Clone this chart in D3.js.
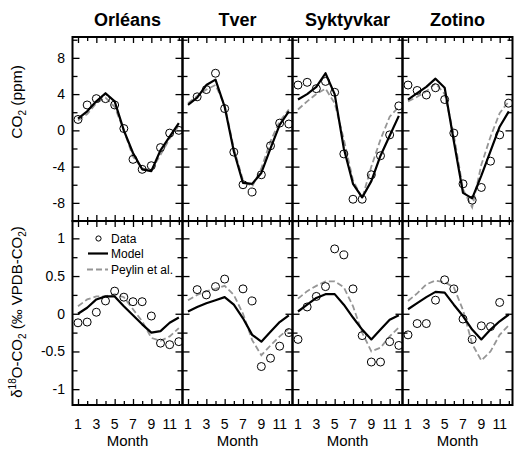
<!DOCTYPE html>
<html>
<head>
<meta charset="utf-8">
<script src="https://cdn.jsdelivr.net/npm/d3@7"></script>
<style>
  body { margin: 0; background: #fff; }
  text { font-family: "Liberation Sans", Arial, Helvetica, sans-serif; fill: #000; }
</style>
</head>
<body>
<svg id="chart" width="514" height="450"></svg>
<script>
// Stations (one column each) and months
const sites = ["Orléans", "Tver", "Syktyvkar", "Zotino"];
const months = [1, 2, 3, 4, 5, 6, 7, 8, 9, 10, 11, 12];
const monthLabels = [1, 3, 5, 7, 9, 11];

// CO2 seasonal cycle (ppm), one row per station
const co2Data = [
  [1.2, 2.8, 3.5, 3.5, 2.8, 0.2, -3.2, -4.3, -3.9, -1.9, -0.3, 0.0],
  [null, 3.7, 4.5, 6.3, 2.4, -2.4, -6.0, -6.8, -4.9, -1.7, 0.8, 0.7],
  [5.0, 5.3, 4.6, 5.4, 4.2, -2.6, -7.6, -7.6, -4.9, -2.8, -0.5, 2.7],
  [5.0, 4.4, 3.9, 4.7, 3.4, -0.3, -5.9, -7.7, -6.3, -3.4, -0.5, 3.0]
];
const co2Model = [
  [1.3, 2.1, 3.2, 4.1, 3.2, 0.0, -2.5, -4.3, -4.5, -2.2, -0.7, 0.8],
  [2.8, 3.6, 5.0, 5.6, 2.6, -2.3, -5.8, -5.9, -4.7, -2.0, 0.6, 2.1],
  [3.4, 4.0, 4.8, 6.3, 4.0, -2.0, -5.9, -7.4, -5.6, -2.8, -0.6, 1.6],
  [3.4, 4.1, 4.8, 5.7, 4.7, -1.2, -6.9, -7.5, -5.0, -2.3, 0.4, 2.1]
];
const co2Peylin = [
  [1.1, 1.8, 3.0, 3.6, 2.6, 0.0, -2.9, -4.2, -4.4, -2.7, -0.9, 0.5],
  [3.0, 3.8, 4.5, 5.0, 2.8, -2.0, -5.5, -6.2, -4.2, -1.2, 1.0, 2.3],
  [2.3, 3.2, 4.0, 4.6, 3.0, -1.0, -5.5, -7.5, -4.0, -1.0, 1.5, 2.6],
  [3.2, 3.7, 4.3, 5.2, 4.0, -0.5, -6.5, -8.5, -3.8, -0.7, 1.9, 3.2]
];

// delta-18O of CO2 seasonal cycle (permil), one row per station
const d18Data = [
  [-0.12, -0.11, 0.02, 0.17, 0.30, 0.22, 0.16, 0.16, -0.03, -0.39, -0.41, -0.37],
  [null, 0.32, 0.25, 0.36, 0.46, null, 0.33, 0.17, -0.70, -0.59, -0.43, -0.25],
  [-0.34, 0.09, 0.23, 0.36, 0.86, 0.78, 0.33, -0.29, -0.64, -0.64, -0.37, -0.42],
  [-0.28, -0.13, -0.13, 0.18, 0.45, 0.33, -0.07, -0.34, -0.16, -0.17, 0.15, null]
];
const d18Model = [
  [0.00, 0.08, 0.19, 0.23, 0.23, 0.10, -0.02, -0.14, -0.25, -0.23, -0.12, -0.05],
  [0.03, 0.09, 0.14, 0.18, 0.22, 0.12, -0.06, -0.28, -0.37, -0.24, -0.11, -0.02],
  [0.03, 0.12, 0.21, 0.26, 0.26, 0.12, -0.05, -0.21, -0.34, -0.21, -0.08, -0.02],
  [0.06, 0.14, 0.22, 0.29, 0.28, 0.12, -0.03, -0.21, -0.34, -0.21, -0.10, -0.01]
];
const d18Peylin = [
  [0.10, 0.19, 0.23, 0.23, 0.26, 0.22, 0.06, -0.10, -0.32, -0.36, -0.30, -0.19],
  [0.18, 0.25, 0.30, 0.33, 0.37, 0.25, 0.00, -0.35, -0.55, -0.42, -0.30, -0.20],
  [0.20, 0.30, 0.37, 0.43, 0.43, 0.35, 0.10, -0.25, -0.50, -0.45, -0.30, -0.18],
  [0.17, 0.27, 0.39, 0.44, 0.42, 0.35, 0.05, -0.40, -0.62, -0.50, -0.28, -0.15]
];

// Axis ticks
const co2Major = [-8, -4, 0, 4, 8];
const co2Minor = [-10, -6, -2, 2, 6, 10];
const d18Major = [-1, -0.5, 0, 0.5, 1];
const d18Minor = [-0.75, -0.25, 0.25, 0.75];
const co2TickLabels = ["-8", "-4", "0", "4", "8"];
const d18TickLabels = ["-1", "-0.5", "0", "0.5", "1"];

// ---- layout ----
const svg = d3.select("#chart");
const panelW = 110;
const panelX = [72.5, 182.5, 292.5, 402.5];
const topRow = { y0: 37, y1: 221 };
const botRow = { y0: 221, y1: 405 };

const xScale = i => d3.scaleLinear().domain([0.4, 12.4]).range([panelX[i], panelX[i] + panelW]);
const yCO2 = d3.scaleLinear().domain([-10, 10.3]).range([topRow.y1, topRow.y0]);
const yD18 = d3.scaleLinear().domain([-1.21, 1.23]).range([botRow.y1, botRow.y0]);

const GRAY = "#969696";

function tickAxis(g, axis) {
  g.call(axis);
  g.select(".domain").remove();
  g.selectAll(".tick line").attr("stroke", "#000").attr("stroke-width", 1.3);
  g.selectAll(".tick text").remove();
}

function drawPanel(i, row, y, major, minor, dataArr, modelArr, peylinArr) {
  const x = xScale(i);
  const x0 = panelX[i], x1 = panelX[i] + panelW;
  const g = svg.append("g");

  // month ticks, top and bottom, pointing inward
  const odd = months.filter(m => m % 2 === 1);
  const even = months.filter(m => m % 2 === 0);
  [[odd, 6], [even, 4]].forEach(([vals, len]) => {
    tickAxis(g.append("g").attr("transform", `translate(0,${row.y1})`),
      d3.axisBottom(x).tickValues(vals).tickSize(-len));
    tickAxis(g.append("g").attr("transform", `translate(0,${row.y0})`),
      d3.axisTop(x).tickValues(vals).tickSize(-len));
  });
  // value ticks, left and right, pointing inward
  [[major, 7], [minor, 5]].forEach(([vals, len]) => {
    tickAxis(g.append("g").attr("transform", `translate(${x0},0)`),
      d3.axisLeft(y).tickValues(vals).tickSize(-len));
    tickAxis(g.append("g").attr("transform", `translate(${x1},0)`),
      d3.axisRight(y).tickValues(vals).tickSize(-len));
  });

  const clipId = `clip-${i}-${row.y0}`;
  svg.append("clipPath").attr("id", clipId)
    .append("rect").attr("x", x0).attr("y", row.y0).attr("width", panelW).attr("height", row.y1 - row.y0);
  const plot = g.append("g").attr("clip-path", `url(#${clipId})`);

  const line = d3.line()
    .defined(d => d.v != null)
    .x(d => x(d.m))
    .y(d => y(d.v));
  const pts = arr => months.map((m, k) => ({ m, v: arr[k] }));

  plot.append("path").datum(pts(peylinArr))
    .attr("d", line).attr("fill", "none")
    .attr("stroke", GRAY).attr("stroke-width", 1.8).attr("stroke-dasharray", "6,3");
  plot.append("path").datum(pts(modelArr))
    .attr("d", line).attr("fill", "none")
    .attr("stroke", "#000").attr("stroke-width", 2.2).attr("stroke-linejoin", "round");
  plot.selectAll("circle.obs").data(pts(dataArr).filter(d => d.v != null))
    .join("circle").attr("class", "obs")
    .attr("cx", d => x(d.m)).attr("cy", d => y(d.v)).attr("r", 4)
    .attr("fill", "none").attr("stroke", "#000").attr("stroke-width", 1);

  // frame
  g.append("rect").attr("x", x0).attr("y", row.y0).attr("width", panelW).attr("height", row.y1 - row.y0)
    .attr("fill", "none").attr("stroke", "#000").attr("stroke-width", 2);
}

sites.forEach((s, i) => {
  drawPanel(i, topRow, yCO2, co2Major, co2Minor, co2Data[i], co2Model[i], co2Peylin[i]);
  drawPanel(i, botRow, yD18, d18Major, d18Minor, d18Data[i], d18Model[i], d18Peylin[i]);

  const x = xScale(i);
  // station title
  svg.append("text").attr("x", panelX[i] + panelW / 2).attr("y", 26)
    .attr("text-anchor", "middle").attr("font-size", 18).attr("font-weight", "bold").text(s);
  // month labels and axis title
  monthLabels.forEach(m => {
    svg.append("text").attr("x", x(m)).attr("y", 429)
      .attr("text-anchor", "middle").attr("font-size", 14).text(m);
  });
  svg.append("text").attr("x", panelX[i] + panelW / 2).attr("y", 446)
    .attr("text-anchor", "middle").attr("font-size", 15).text("Month");
});

// value labels on the left
co2Major.forEach((v, k) => {
  svg.append("text").attr("x", 65).attr("y", yCO2(v)).attr("dy", "0.36em")
    .attr("text-anchor", "end").attr("font-size", 14).text(co2TickLabels[k]);
});
d18Major.forEach((v, k) => {
  svg.append("text").attr("x", 65).attr("y", yD18(v)).attr("dy", "0.36em")
    .attr("text-anchor", "end").attr("font-size", 14).text(d18TickLabels[k]);
});

// y-axis titles
const t1 = svg.append("text").attr("transform", "translate(22,102) rotate(-90)")
  .attr("text-anchor", "middle").attr("font-size", 15.5);
t1.append("tspan").text("CO");
t1.append("tspan").attr("font-size", 10).attr("dy", 4).text("2");
t1.append("tspan").attr("dy", -4).text(" (ppm)");

const t2 = svg.append("text").attr("transform", "translate(22,312) rotate(-90)")
  .attr("text-anchor", "middle").attr("font-size", 15);
t2.append("tspan").text("δ");
t2.append("tspan").attr("font-size", 10).attr("dy", -6).text("18");
t2.append("tspan").attr("dy", 6).text("O-CO");
t2.append("tspan").attr("font-size", 10).attr("dy", 4).text("2");
t2.append("tspan").attr("dy", -4).text(" (‰ VPDB-CO");
t2.append("tspan").attr("font-size", 10).attr("dy", 4).text("2");
t2.append("tspan").attr("dy", -4).text(")");

// legend in the first lower panel
const lg = svg.append("g").attr("font-size", 12);
lg.append("circle").attr("cx", 98.5).attr("cy", 238.5).attr("r", 2.6)
  .attr("fill", "none").attr("stroke", "#000").attr("stroke-width", 1);
lg.append("line").attr("x1", 88).attr("x2", 108).attr("y1", 253.5).attr("y2", 253.5)
  .attr("stroke", "#000").attr("stroke-width", 2.2);
lg.append("line").attr("x1", 87).attr("x2", 108).attr("y1", 269.5).attr("y2", 269.5)
  .attr("stroke", GRAY).attr("stroke-width", 1.8).attr("stroke-dasharray", "6,3");
[["Data", 238.5], ["Model", 253.5], ["Peylin et al.", 269.5]].forEach(([t, yy]) => {
  lg.append("text").attr("x", 111).attr("y", yy).attr("dy", "0.36em").attr("font-size", 12).text(t);
});
</script>
</body>
</html>
